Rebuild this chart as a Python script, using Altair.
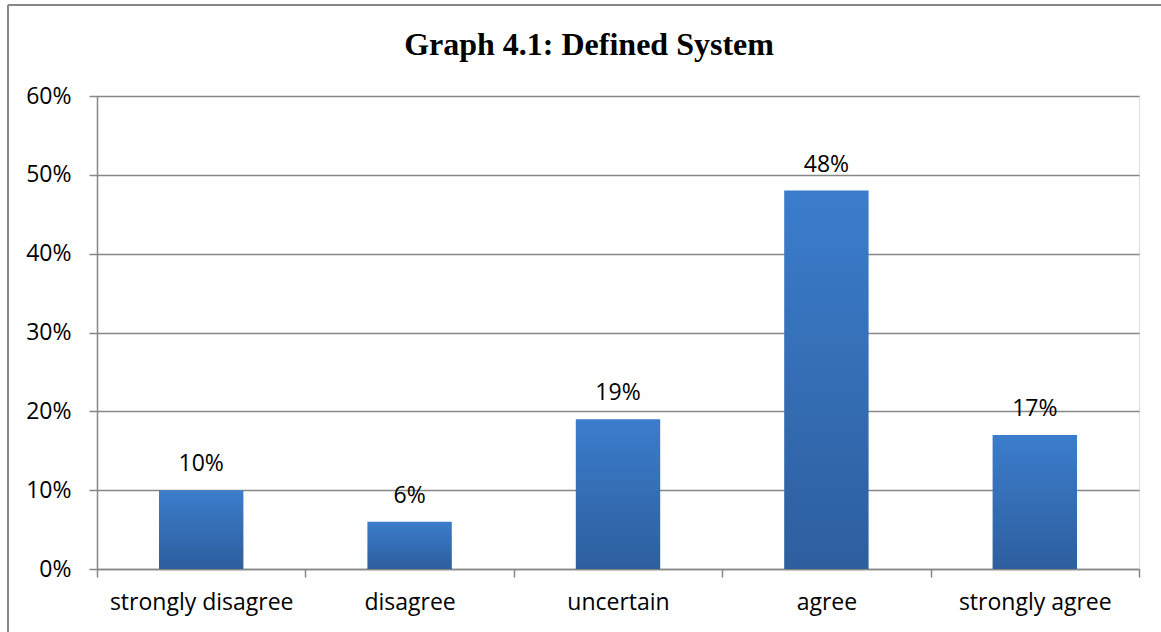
import altair as alt
import pandas as pd

categories = ["strongly disagree", "disagree", "uncertain", "agree", "strongly agree"]
values = [0.10, 0.06, 0.19, 0.48, 0.17]
labels = ["10%", "6%", "19%", "48%", "17%"]
title_text = "Graph 4.1: Defined System"

df = pd.DataFrame({"category": categories, "value": values, "label": labels})

W, H = 1042, 473
PL, PT, PR, PB = 97, 96, 22, 63
LABEL_FONT = "Open Sans"
FS = 23

x = alt.X("category:N", sort=categories, title=None,
          scale=alt.Scale(paddingInner=0, paddingOuter=0),
          axis=alt.Axis(labelAngle=0, labelFont=LABEL_FONT, labelFontSize=FS,
                        labelColor="#000000", labelPadding=14, labelLimit=0,
                        tickBand="extent",
                        tickSize=8, tickColor="#868686", domainColor="#868686",
                        domainWidth=1.5, tickWidth=1.5, grid=False))
y = alt.Y("value:Q", title=None,
          scale=alt.Scale(domain=[0, 0.6]),
          axis=alt.Axis(format=".0%", values=[0, 0.1, 0.2, 0.3, 0.4, 0.5, 0.6],
                        labelFont=LABEL_FONT, labelFontSize=FS, labelColor="#000000",
                        labelPadding=18, tickSize=8, tickColor="#868686",
                        domainColor="#868686", domainWidth=1.5, tickWidth=1.5,
                        grid=True, gridColor="#868686", gridWidth=1.5))

bars = alt.Chart(df).mark_bar(
    width=alt.RelativeBandSize(0.405),
    color=alt.Gradient(gradient="linear", x1=0, x2=0, y1=0, y2=1,
                       stops=[alt.GradientStop(color="#3B7DCC", offset=0),
                              alt.GradientStop(color="#2E5E9E", offset=1)])
).encode(x=x, y=y)

text = alt.Chart(df).mark_text(font=LABEL_FONT, fontSize=FS, color="#000000",
                               baseline="bottom", dy=-14).encode(
    x=alt.X("category:N", sort=categories), y="value:Q", text="label:N")

title = alt.Chart(pd.DataFrame({"t": [title_text]})).mark_text(
    font="Liberation Serif", fontSize=32, fontWeight="bold", color="#000000",
    align="center", baseline="alphabetic").encode(
    x=alt.value(492), y=alt.value(-41), text="t:N")

border = alt.Chart(df).mark_rule(color="#868686", strokeWidth=2).encode(
    x=alt.value(-PL + 8), x2=alt.value(W + PR + 5),
    y=alt.value(-PT + 5))
border_left = alt.Chart(df).mark_rule(color="#868686", strokeWidth=2).encode(
    x=alt.value(-PL + 8), y=alt.value(-PT + 5), y2=alt.value(H + PB + 5))

chart = alt.layer(bars, text, title, border, border_left).properties(
    width=W, height=H,
    autosize=alt.AutoSizeParams(type="none"),
    padding={"left": PL, "top": PT, "right": PR, "bottom": PB},
).configure_view(stroke=None).configure(background="white")

chart.save("out.html", embed_options={"renderer": "svg", "actions": False})
